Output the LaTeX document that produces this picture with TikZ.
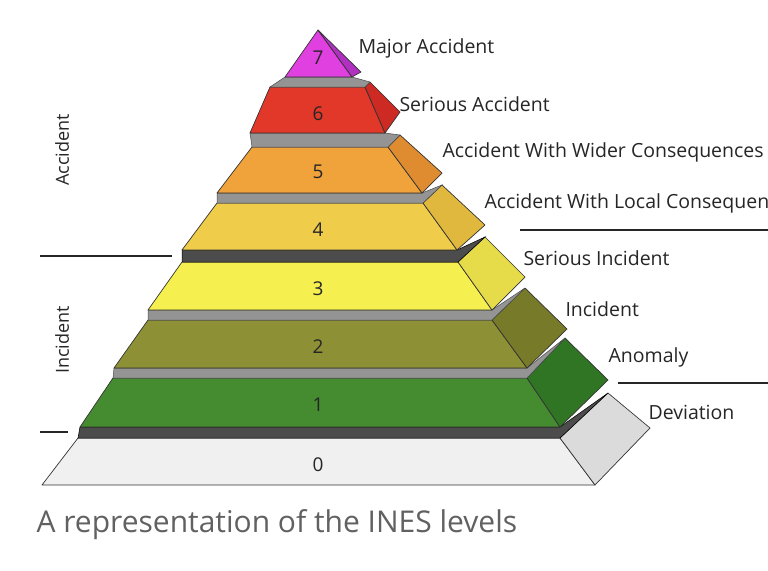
\documentclass[tikz,border=0pt]{standalone}
\usepackage{fontspec}
\setmainfont{Open Sans}
\newfontfamily\capfont{Open Sans}
\usetikzlibrary{calc}
\newcommand\lev[9]{%
 \filldraw[face,f#9] (#3,#1)--(#6,#1)--(#5,#2)--(#4,#2)--cycle;
 \filldraw[face,s#9] (#5,#2)--(#6,#1)--($(#6,#1)+(#7)$)--($(#5,#2)+(#8)$)--cycle;}
\begin{document}
\begin{tikzpicture}[x=1pt,y=-1pt,
 face/.style={draw=black!80,line width=0.7pt,line join=round},
 strip/.style={fill=gray!80!black!70,draw=black!70,line width=0.5pt},
 dstrip/.style={fill=black!70,draw=black,line width=0.5pt},
 f0/.style={fill=gray!12},s0/.style={fill=gray!28},
 f1/.style={fill={rgb,255:red,69;green,139;blue,47}},s1/.style={fill={rgb,255:red,47;green,117;blue,36}},
 f2/.style={fill={rgb,255:red,142;green,144;blue,53}},s2/.style={fill={rgb,255:red,119;green,122;blue,40}},
 f3/.style={fill={rgb,255:red,245;green,239;blue,80}},s3/.style={fill={rgb,255:red,230;green,220;blue,74}},
 f4/.style={fill={rgb,255:red,240;green,204;blue,75}},s4/.style={fill={rgb,255:red,223;green,184;blue,61}},
 f5/.style={fill={rgb,255:red,240;green,162;blue,59}},s5/.style={fill={rgb,255:red,223;green,140;blue,48}},
 f6/.style={fill={rgb,255:red,226;green,56;blue,42}},s6/.style={fill={rgb,255:red,204;green,42;blue,34}},
 num/.style={font=\fontsize{19}{19}\selectfont,text=black!85},
 lab/.style={anchor=west,font=\fontsize{19.5}{19.5}\selectfont,text=black!85},
 sep/.style={line width=1.3pt,black!85}]
\useasboundingbox (0,0) rectangle (768,570);
\clip (0,0) rectangle (768,570);
\fill[white] (0,0) rectangle (768,570);
\lev{485}{438}{42}{78}{560}{595}{55,-57}{48,-45}{0}
\filldraw[dstrip] (78,438)--(560,438)--(608,393)--(560,427)--(80,427)--cycle;
\lev{427}{378}{80}{113}{527}{560}{48,-47}{38,-40}{1}
\filldraw[strip] (113,378)--(527,378)--(565,338)--(527,368)--(114,368)--cycle;
\lev{368}{320}{114}{148}{492}{527}{40,-39}{33,-32}{2}
\filldraw[strip] (148,320)--(492,320)--(525,288)--(492,310)--(148,310)--cycle;
\lev{310}{262}{148}{182}{458}{492}{33,-33}{27,-25}{3}
\filldraw[dstrip] (182,262)--(458,262)--(485,237)--(457,250)--(182,250)--cycle;
\lev{250}{203}{182}{217}{423}{457}{28,-25}{19,-18}{4}
\filldraw[strip] (217,203)--(423,203)--(442,185)--(422,193)--(217,193)--cycle;
\lev{193}{147}{217}{252}{388}{422}{20,-20}{12,-12}{5}
\filldraw[strip] (252,147)--(388,147)--(400,135)--(385,133)--(250,133)--cycle;
\lev{133}{87}{250}{270}{365}{385}{15,-21}{5,-5}{6}
\filldraw[strip] (270,87)--(365,87)--(370,82)--(352,77)--(285,77)--cycle;
\filldraw[face,fill={rgb,255:red,224;green,64;blue,224}] (285,77)--(352,77)--(318,30)--cycle;
\filldraw[face,fill={rgb,255:red,176;green,48;blue,192}] (318,30)--(352,77)--(361,72)--cycle;
\node[num] (n0) at (318,465) {0};
\node[num] (n1) at (318,405) {1};
\node[num] (n2) at (318,347) {2};
\node[num] (n3) at (318,289) {3};
\node[num] (n4) at (318,230) {4};
\node[num] (n5) at (318,172) {5};
\node[num] (n6) at (318,114) {6};
\node[num] (n7) at (318,58) {7};
\node[lab] (l7) at (355,48) {Major Accident};
\node[lab] (l6) at (396,104) {Serious Accident};
\node[lab] (l5) at (439,152) {Accident With Wider Consequences};
\node[lab] (l4) at (481,203) {Accident With Local Consequences};
\node[lab] (l3) at (520,258) {Serious Incident};
\node[lab] (l2) at (562,309) {Incident};
\node[lab] (l1) at (605,357) {Anomaly};
\node[lab] (l0) at (645,412) {Deviation};
\draw[sep] (40,256) -- (172,256);
\draw[sep] (520,230) -- (768,230);
\draw[sep] (618,383) -- (768,383);
\draw[sep] (40,432) -- (68,432);
\node[rotate=90,font=\fontsize{18}{18}\selectfont,text=black!85] (ga) at (62,150) {Accident};
\node[rotate=90,font=\fontsize{18}{18}\selectfont,text=black!85] (gi) at (62,340) {Incident};
\node[anchor=west,font=\capfont\fontsize{30}{30}\selectfont,text=black!62] (cap) at (33,525) {A representation of the INES levels};
\end{tikzpicture}
\end{document}
